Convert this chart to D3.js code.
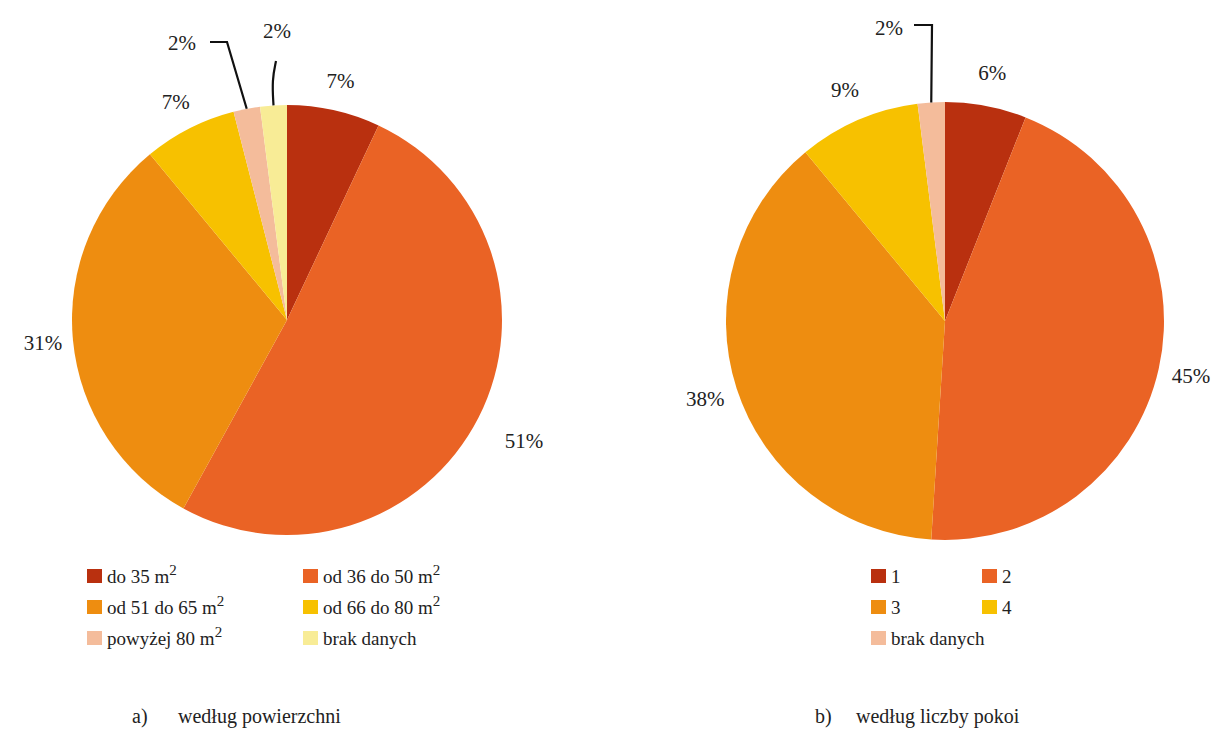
<!DOCTYPE html>
<html>
<head>
<meta charset="utf-8">
<script src="https://cdn.jsdelivr.net/npm/d3@7"></script>
<style>
  body { margin: 0; background: #fff; }
</style>
</head>
<body>
<svg id="chart" width="1228" height="738"></svg>
<script>
const FONT = "'Liberation Serif', 'Tinos', 'DejaVu Serif', 'Times New Roman', serif";

// a) według powierzchni
const areaCategories = ["do 35 m", "od 36 do 50 m", "od 51 do 65 m", "od 66 do 80 m", "powyżej 80 m", "brak danych"];
const areaSuper = ["2", "2", "2", "2", "2", ""];
const areaValues = [7, 51, 31, 7, 2, 2];
const areaColors = ["#b9300f", "#ea6325", "#ee8d10", "#f7c100", "#f4bc9b", "#f8ec96"];

// b) według liczby pokoi
const roomCategories = ["1", "2", "3", "4", "brak danych"];
const roomValues = [6, 45, 38, 9, 2];
const roomColors = ["#b9300f", "#ea6325", "#ee8d10", "#f7c100", "#f4bc9b"];

const captions = [["a)", "według powierzchni"], ["b)", "według liczby pokoi"]];

const svg = d3.select("#chart")
  .attr("font-family", FONT)
  .style("font-family", FONT);

function drawPie(opts) {
  const g = svg.append("g").attr("transform", `translate(${opts.cx},${opts.cy})`);
  const pie = d3.pie().sort(null).value(d => d.value);
  const arcs = pie(opts.values.map((v, i) => ({ value: v, i })));
  const arc = d3.arc().innerRadius(0).outerRadius(opts.r);

  g.selectAll("path.slice").data(arcs).enter().append("path")
    .attr("class", "slice")
    .attr("d", arc)
    .attr("fill", d => opts.colors[d.data.i]);

  const mid = d => (d.startAngle + d.endAngle) / 2;
  const polar = (a, r) => [Math.sin(a) * r, -Math.cos(a) * r];

  arcs.forEach(d => {
    const lead = opts.leaders[d.data.i];
    const label = d.data.value + "%";
    if (lead) {
      const [ex, ey] = polar(mid(d), opts.r);
      const pts = [[ex, ey]].concat(lead.path);
      g.append("path")
        .attr("d", d3.line().curve(lead.curve || d3.curveLinear)(pts))
        .attr("fill", "none").attr("stroke", "#111").attr("stroke-width", 2.2);
      g.append("text")
        .attr("x", lead.text[0]).attr("y", lead.text[1])
        .attr("text-anchor", "middle").attr("dominant-baseline", "central")
        .attr("font-size", 21).attr("fill", "#222").text(label);
    } else {
      const lr = (opts.labelR[d.data.i]) || opts.labelR.def;
      const [lx, ly] = polar(mid(d), lr);
      g.append("text")
        .attr("x", lx).attr("y", ly)
        .attr("text-anchor", "middle").attr("dominant-baseline", "central")
        .attr("font-size", 21).attr("fill", "#222").text(label);
    }
  });

  // legend
  const lg = svg.append("g");
  opts.categories.forEach((c, i) => {
    const col = i % 2, row = Math.floor(i / 2);
    const x = opts.legendX[col], y = opts.legendY + row * 31;
    lg.append("rect").attr("x", x).attr("y", y - 7).attr("width", 15).attr("height", 14)
      .attr("fill", opts.colors[i]);
    const t = lg.append("text").attr("x", x + 20).attr("y", y)
      .attr("dominant-baseline", "central").attr("font-size", 19).attr("fill", "#222");
    t.append("tspan").text(c);
    if (opts.sup && opts.sup[i]) {
      t.append("tspan").attr("dy", -6).attr("font-size", 15).text(opts.sup[i]);
    }
  });

  // caption
  const cap = svg.append("text").attr("y", 716).attr("dominant-baseline", "central")
    .attr("font-size", 20).attr("fill", "#222");
  cap.append("tspan").attr("x", opts.captionX[0]).text(opts.caption[0]);
  cap.append("tspan").attr("x", opts.captionX[1]).text(opts.caption[1]);
}

drawPie({
  cx: 287, cy: 320, r: 215,
  values: areaValues, colors: areaColors, categories: areaCategories, sup: areaSuper,
  labelR: { def: 245, 1: 266 },
  leaders: {
    4: { path: [[-60, -278], [-77, -278]], text: [-105, -277] },
    5: { path: [[-15, -240], [-11, -259]], curve: d3.curveBasis, text: [-10, -289] }
  },
  legendX: [87, 303], legendY: 576,
  caption: captions[0], captionX: [132, 178]
});

drawPie({
  cx: 945, cy: 321, r: 219,
  values: roomValues, colors: roomColors, categories: roomCategories,
  labelR: { def: 252 },
  leaders: {
    4: { path: [[-13, -296], [-31, -296]], text: [-56, -293] }
  },
  legendX: [871, 982], legendY: 576,
  caption: captions[1], captionX: [815, 856]
});
</script>
</body>
</html>
